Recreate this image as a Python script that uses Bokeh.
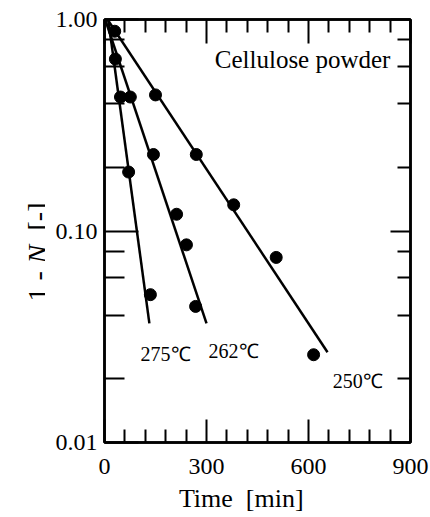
import math
from bokeh.plotting import figure
from bokeh.layouts import row
from bokeh.models import (FixedTicker, LinearAxis, LogAxis, Range1d, Label,
                          PrintfTickFormatter)
from bokeh.core.properties import value
from bokeh.embed import file_html
from bokeh.resources import INLINE

# ---- data ----
series_names = ["250℃", "262℃", "275℃"]

t_250 = [30, 150, 270, 380, 505, 615]
v_250 = [0.88, 0.44, 0.23, 0.133, 0.075, 0.026]

t_262 = [32, 76, 144, 212, 241, 268]
v_262 = [0.65, 0.43, 0.23, 0.12, 0.086, 0.044]

t_275 = [47, 71, 135]
v_275 = [0.43, 0.19, 0.050]

# fitted straight lines (start / end)
fit_t_250 = [9, 656]
fit_v_250 = [1.0, 0.0267]
fit_t_262 = [2, 300]
fit_v_262 = [1.0, 0.0366]
fit_t_275 = [11, 132]
fit_v_275 = [1.0, 0.0366]

x_major = [0, 300, 600, 900]
x_minor = [60, 120, 180, 240, 360, 420, 480, 540, 660, 720, 780, 840]
y_major = [0.01, 0.1, 1.0]
y_minor = [0.02, 0.04, 0.06, 0.08, 0.2, 0.4, 0.6, 0.8]

title_text = "Cellulose powder"
x_label = "Time\u00a0\u00a0[min]" + "\u00a0" * 5
y_label_parts = ["1 -", "N", "[-]"]

SERIF = "Liberation Serif"

LEFT_W = 45
H = 517

# ---- narrow strip holding the rotated y-axis title ----
lab = figure(title=None, frame_width=LEFT_W, frame_height=H,
             x_range=Range1d(0, LEFT_W), y_range=Range1d(0, H),
             output_backend="svg", toolbar_location=None,
             min_border=0, min_border_left=0, min_border_right=0,
             min_border_top=0, min_border_bottom=0,
             x_axis_location=None, y_axis_location=None)
lab.grid.visible = False
lab.outline_line_color = None
lab.border_fill_color = "white"
lab.background_fill_color = "white"

ang = math.pi / 2
for txt, yy, st in [(y_label_parts[0], 235, "normal"),
                    (y_label_parts[1], 273, "italic"),
                    (y_label_parts[2], 306, "normal")]:
    lab.text(x=[37], y=[yy], text=[txt], angle=ang, text_align="left",
             text_baseline="alphabetic", text_font=value(SERIF),
             text_font_style=value(st), text_font_size=value("28px"),
             text_color="black")

# ---- main chart ----
p = figure(width=430 - LEFT_W, height=H, x_range=Range1d(0, 900),
           y_range=Range1d(0.01, 1.0), y_axis_type="log",
           output_backend="svg", toolbar_location=None,
           min_border_left=104 - LEFT_W, min_border_right=20,
           min_border_top=19, min_border_bottom=75)
p.grid.visible = False
p.outline_line_color = "black"
p.outline_line_width = 2.5
p.background_fill_color = "white"
p.border_fill_color = "white"


def style(ax, maj_in, min_in, labels=True, standoff=8):
    ax.axis_line_width = 2.5
    ax.axis_line_color = "black"
    ax.major_tick_in = maj_in
    ax.major_tick_out = 0
    ax.minor_tick_in = min_in
    ax.minor_tick_out = 0
    ax.major_tick_line_width = 2
    ax.minor_tick_line_width = 2
    ax.major_tick_line_color = "black"
    ax.minor_tick_line_color = "black"
    if labels:
        ax.major_label_text_font = SERIF
        ax.major_label_text_font_size = "24px"
        ax.major_label_text_color = "black"
        ax.major_label_standoff = standoff
    else:
        ax.major_label_text_font_size = "2px"
        ax.major_label_text_color = None
        ax.major_label_standoff = 0


bx = p.xaxis[0]
bx.ticker = FixedTicker(ticks=x_major, minor_ticks=x_minor)
style(bx, 23, 13, True, 16)
bx.axis_label = x_label
bx.axis_label_text_font = SERIF
bx.axis_label_text_font_style = "normal"
bx.axis_label_text_font_size = "26px"
bx.axis_label_text_color = "black"
bx.axis_label_standoff = 7

ly = p.yaxis[0]
ly.ticker = FixedTicker(ticks=y_major, minor_ticks=y_minor)
ly.formatter = PrintfTickFormatter(format="%.2f")
style(ly, 34, 20, True, 7)

top = LinearAxis(ticker=FixedTicker(ticks=x_major, minor_ticks=x_minor))
style(top, 24, 13, False)
p.add_layout(top, "above")

right = LogAxis(ticker=FixedTicker(ticks=y_major, minor_ticks=y_minor))
style(right, 20, 13, False)
p.add_layout(right, "right")

# fitted lines
for ft, fv in [(fit_t_250, fit_v_250), (fit_t_262, fit_v_262), (fit_t_275, fit_v_275)]:
    p.line(ft, fv, line_color="black", line_width=2.5)

# data points
for t, v in [(t_250, v_250), (t_262, v_262), (t_275, v_275)]:
    p.scatter(t, v, size=12, color="black")

# in-plot texts
p.add_layout(Label(x=841, y=0.647, text=title_text, text_align="right",
                   text_baseline="alphabetic", text_font=SERIF,
                   text_font_size="25px", text_color="black"))
for name, xx, yy in [(series_names[0], 671, 0.0196),
                     (series_names[1], 306, 0.0272),
                     (series_names[2], 106, 0.0262)]:
    p.add_layout(Label(x=xx, y=yy, text=name, text_align="left",
                       text_baseline="alphabetic", text_font=SERIF,
                       text_font_size="20px", text_color="black"))

layout = row(lab, p, spacing=0)
open("out.html", "w").write(file_html(layout, INLINE))
